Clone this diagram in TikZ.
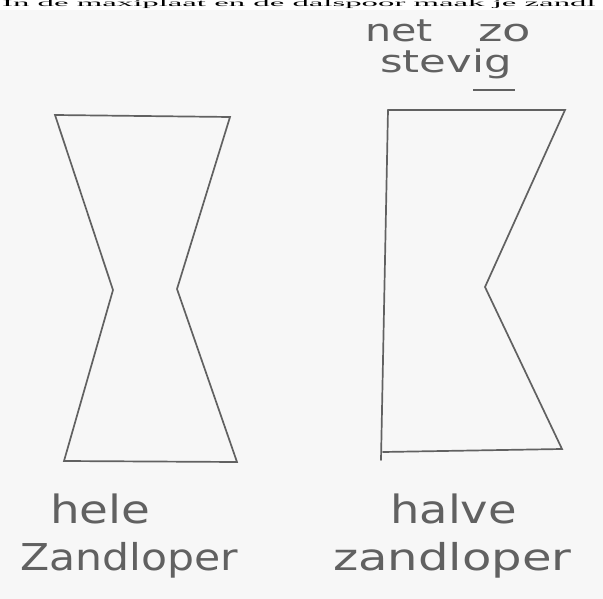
\documentclass[tikz,border=0pt]{standalone}
\usepackage{fontspec}
\setmainfont{Liberation Serif}
\newfontfamily\hand{DejaVu Sans}
\begin{document}
\begin{tikzpicture}[x=1pt,y=-1pt,
  pen/.style={draw=black!62,line width=1.7pt,line join=miter,line cap=round},
  handtxt/.style={text=black!62,inner sep=0pt,anchor=base west},
  big/.style={font=\hand\fontsize{39}{39}\selectfont},
  mid/.style={font=\hand\fontsize{37}{37}\selectfont},
  small/.style={font=\hand\fontsize{31}{31}\selectfont}]
\useasboundingbox (0,0) rectangle (603,599);
\clip (0,0) rectangle (603,599);
\fill[black!3] (0,10) rectangle (603,599);
\node[anchor=base west,inner sep=0pt,font=\fontsize{9.5}{9.5}\selectfont] (hdr) at (2,7) {\scalebox{3.45}[1]{In de maxiplaat en de dalspoor maak je zandl}};
% left hourglass
\coordinate (ltl) at (55,115);
\coordinate (ltr) at (230,117);
\coordinate (lwl) at (113,290);
\coordinate (lwr) at (177,289);
\coordinate (lbl) at (64,461);
\coordinate (lbr) at (237,462);
\draw[pen] (ltl) -- (ltr) -- (lwr) -- (lbr) -- (lbl) -- (lwl) -- cycle;
% right half hourglass
\coordinate (rtl) at (388,110);
\coordinate (rtr) at (565,110);
\coordinate (rw) at (485,287);
\coordinate (rbr) at (562,449);
\coordinate (rbl) at (383,452);
\coordinate (rlend) at (381,460);
\draw[pen] (rtl) -- (rtr) -- (rw) -- (rbr) -- (rbl);
\draw[pen] (rtl) -- (rlend);
% labels
\node[handtxt,small] (t1a) at (365,42) {\scalebox{1.33}[1]{net}};
\node[handtxt,small] (t1b) at (478,42) {\scalebox{1.5}[1]{zo}};
\node[handtxt,small] (t2) at (380,73) {\scalebox{1.4}[1]{stevig}};
\coordinate (ul1) at (473,90);
\coordinate (ul2) at (515,90);
\draw[draw=black!62,line width=1.4pt] (ul1) -- (ul2);
\node[handtxt,big] (h1) at (50,523) {\scalebox{1.2}[1]{hele}};
\node[handtxt,mid] (h2) at (20,570) {\scalebox{1.15}[1]{Zandloper}};
\node[handtxt,big] (h3) at (390,523) {\scalebox{1.19}[1]{halve}};
\node[handtxt,mid] (h4) at (333,570) {\scalebox{1.3}[1]{zandloper}};
\end{tikzpicture}
\end{document}
